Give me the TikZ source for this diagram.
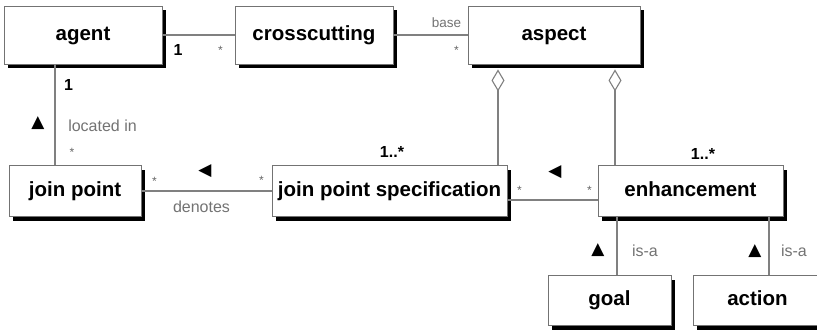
\documentclass[tikz,border=0pt]{standalone}
\usepackage{fontspec}
\setmainfont{Liberation Sans}
\newfontfamily\symfont{DejaVu Sans}
\usetikzlibrary{arrows.meta,shadows,positioning}

\tikzset{
  cls/.style={draw=black!55, line width=0.9pt, fill=white, inner sep=0pt,
    minimum height=51pt, text height=14.5pt, text depth=4.2pt,
    font=\fontsize{20.5}{24}\selectfont\bfseries,
    drop shadow={shadow xshift=4pt, shadow yshift=-4pt, fill=black, opacity=1}},
  assoc/.style={draw=black!50, line width=1.1pt},
  agg/.style={{Diamond[open, length=22pt, width=13pt, line width=1.1pt]}-},
  mult/.style={font=\fontsize{16}{18}\selectfont\bfseries, inner sep=0pt},
  star/.style={font=\fontsize{12}{14}\selectfont, text=black!60, inner sep=0pt},
  role/.style={font=\fontsize{16}{18}\selectfont, text=black!55, inner sep=0pt},
  dirmark/.style={font=\symfont\fontsize{17}{18}\selectfont, inner sep=0pt},
}

\begin{document}
\begin{tikzpicture}[x=1pt, y=-1pt]
    \useasboundingbox[fill=white] (0,0) rectangle (817,332);

    % classes
    \node[cls, minimum width=158pt, minimum height=58pt] (agent) at (83,35) {agent};
    \node[cls, minimum width=158pt, minimum height=58pt] (cross) at (314,35) {crosscutting};
    \node[cls, minimum width=172pt, minimum height=58pt] (aspect) at (554,35) {aspect};
    \node[cls, minimum width=132pt] (jp) at (75,191) {join point};
    \node[cls, minimum width=235pt] (jps) at (389.5,191) {join point specification};
    \node[cls, minimum width=185pt] (enh) at (690.5,191) {enhancement};
    \node[cls, minimum width=123pt, minimum height=50pt] (goal) at (609.5,300.5) {goal};
    \node[cls, minimum width=129pt, minimum height=50pt] (action) at (757.5,300.5) {action};

    % associations
    \draw[assoc] (agent) -- (cross)
        node[mult, pos=0, xshift=15.5pt, yshift=-14.5pt] {1}
        node[star, pos=1, xshift=-14pt, yshift=-15.6pt] {*};
    \draw[assoc] (cross) -- (aspect)
        node[role, pos=1, xshift=-21pt, yshift=12pt, font=\fontsize{13.5}{15}\selectfont] {base}
        node[star, pos=1, xshift=-11pt, yshift=-15.6pt] {*};
    \draw[assoc] ([xshift=-28pt]agent.south) -- ([xshift=-28pt]agent.south |- jp.north)
        node[mult, pos=0, xshift=13.5pt, yshift=-21pt] {1}
        node[dirmark, pos=0, xshift=-17pt, yshift=-59pt] {▲}
        node[role, pos=0, xshift=47.5pt, yshift=-61pt] {located in}
        node[star, pos=1, xshift=17pt, yshift=12.9pt] {*};
    \draw[assoc] (jp) -- (jps)
        node[star, pos=0, xshift=13pt, yshift=9.4pt] {*}
        node[dirmark, midway, xshift=-1.5pt, yshift=20pt] {◀}
        node[star, pos=1, xshift=-10pt, yshift=10.4pt] {*}
        node[role, midway, xshift=-5pt, yshift=-15.5pt] {denotes};

    % aggregations
    \draw[assoc, agg] ([xshift=-56pt, yshift=-5pt]aspect.south) -- ([xshift=-56pt]aspect.south |- jps.north)
        node[mult, pos=1, xshift=-106pt, yshift=13pt] {1..*};
    \draw[assoc, agg] ([xshift=61pt, yshift=-5pt]aspect.south) -- ([xshift=61pt]aspect.south |- enh.north)
        node[mult, pos=1, xshift=88pt, yshift=11.5pt] {1..*};

    \draw[assoc] ([yshift=-9pt]jps.east) -- ([yshift=-9pt]jps.east -| enh.west)
        node[star, pos=0, xshift=12pt, yshift=9.4pt] {*}
        node[dirmark, midway, xshift=2.5pt, yshift=28pt] {◀}
        node[star, pos=1, xshift=-8pt, yshift=9.4pt] {*};

    % is-a
    \draw[assoc] ([xshift=7.5pt]goal.north |- enh.south) -- ([xshift=7.5pt]goal.north)
        node[dirmark, midway, xshift=-19pt, yshift=-4pt] {▲}
        node[role, midway, xshift=28pt, yshift=-5pt] {is-a};
    \draw[assoc] ([xshift=11.5pt]action.north |- enh.south) -- ([xshift=11.5pt]action.north)
        node[dirmark, midway, xshift=-14pt, yshift=-5pt] {▲}
        node[role, midway, xshift=25pt, yshift=-5pt] {is-a};
\end{tikzpicture}
\end{document}
